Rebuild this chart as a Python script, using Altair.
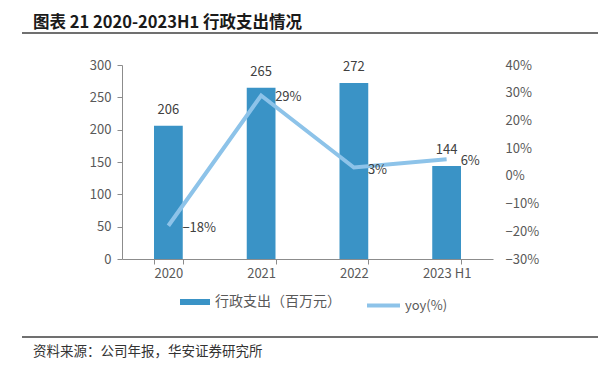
import altair as alt
import pandas as pd

years = ["2020", "2021", "2022", "2023 H1"]
expense = [206, 265, 272, 144]
yoy = [-18, 29, 3, 6]
yoy_labels = ["−18%", "29%", "3%", "6%"]

bar_name = "行政支出（百万元）"
line_name = "yoy(%)"
title_text = "图表 21 2020-2023H1 行政支出情况"
source_text = "资料来源：公司年报，华安证券研究所"

FONT = "Noto Sans CJK SC"
GREY = "#595959"
BAR = "#3A93C6"
LINE = "#8DC3E9"
AX = "#8c8c8c"

df = pd.DataFrame({
    "year": years,
    "expense": expense,
    "yoy": yoy,
    "yoy_label": yoy_labels,
    "s_bar": [bar_name] * len(years),
    "s_line": [line_name] * len(years),
})

x_enc = alt.X(
    "year:N", sort=years,
    scale=alt.Scale(paddingInner=0.69, paddingOuter=0.345),
    axis=alt.Axis(title=None, labelAngle=0, tickBand="extent", labelFontSize=13,
                  labelColor=GREY, labelFont=FONT, domainColor=AX, tickColor=AX,
                  tickSize=5, labelPadding=3),
)

left_scale = alt.Scale(domain=[0, 300], nice=False, zero=True)
right_scale = alt.Scale(domain=[-30, 40], nice=False, zero=False)

base = alt.Chart(df)

bars = base.mark_bar().encode(
    x=x_enc,
    y=alt.Y("expense:Q", scale=left_scale,
            axis=alt.Axis(title=None, values=[0, 50, 100, 150, 200, 250, 300], grid=False,
                          labelFontSize=13, labelColor=GREY, labelFont=FONT,
                          domainColor=AX, tickColor=AX, tickSize=5, labelPadding=6)),
    fill=alt.Fill("s_bar:N", scale=alt.Scale(domain=[bar_name], range=[BAR]),
                  legend=alt.Legend(title=None, orient="none", legendX=58, legendY=222,
                                    symbolType="M-1,-0.2L1,-0.2L1,0.2L-1,0.2Z",
                                    symbolSize=900, symbolStrokeWidth=0,
                                    labelFontSize=14, labelColor=GREY, labelFont=FONT,
                                    padding=0, labelOffset=5)),
)

bar_text = base.mark_text(baseline="alphabetic", dy=-12, fontSize=13, color="#404040", font=FONT).encode(
    x=x_enc,
    y=alt.Y("expense:Q", scale=left_scale, axis=None),
    text="expense:Q",
)

line = base.mark_line(strokeWidth=4, strokeCap="butt").encode(
    x=x_enc,
    y=alt.Y("yoy:Q", scale=right_scale,
            axis=alt.Axis(title=None, orient="right", values=[-30, -20, -10, 0, 10, 20, 30, 40],
                          grid=False, ticks=False, domain=False,
                          labelExpr="replace(datum.value + '%', '-', '−')",
                          labelFontSize=13, labelColor=GREY, labelFont=FONT, labelPadding=12)),
    stroke=alt.Stroke("s_line:N", scale=alt.Scale(domain=[line_name], range=[LINE]),
                      legend=alt.Legend(title=None, orient="none", legendX=243, legendY=222,
                                        symbolType="stroke", symbolSize=1089, symbolStrokeWidth=4,
                                        labelFontSize=13, labelColor=GREY, labelFont=FONT,
                                        padding=0, labelOffset=3)),
)

line_text = base.mark_text(align="left", baseline="middle", dx=14, dy=2, fontSize=13,
                           color="#404040", font=FONT).encode(
    x=x_enc,
    y=alt.Y("yoy:Q", scale=right_scale, axis=None),
    text="yoy_label:N",
)

one = pd.DataFrame({"t": [title_text], "s": [source_text]})
deco = alt.Chart(one)

title_mark = deco.mark_text(align="left", baseline="middle", fontSize=16.5, fontWeight="bold",
                            font=FONT, color="#1a1a1a").encode(
    x=alt.value(-89), y=alt.value(-42), text="t:N")
title_rule = deco.mark_rule(color="#404040", strokeWidth=1.5).encode(
    x=alt.value(-100), x2=alt.value(476), y=alt.value(-32))
foot_rule = deco.mark_rule(color="#404040", strokeWidth=1.5).encode(
    x=alt.value(-100), x2=alt.value(476), y=alt.value(272))
foot_text = deco.mark_text(align="left", baseline="middle", fontSize=13.5, font=FONT,
                           color="#333333").encode(
    x=alt.value(-89), y=alt.value(287), text="s:N")

chart = alt.layer(
    bars, bar_text, line, line_text, title_mark, title_rule, foot_rule, foot_text
).resolve_scale(
    y="independent"
).properties(
    width=371, height=194,
    autosize=alt.AutoSizeParams(type="none"),
    padding={"left": 114, "top": 57, "right": 115, "bottom": 104},
).configure_view(stroke=None)

chart.save("out.html", embed_options={"renderer": "svg", "actions": False})
